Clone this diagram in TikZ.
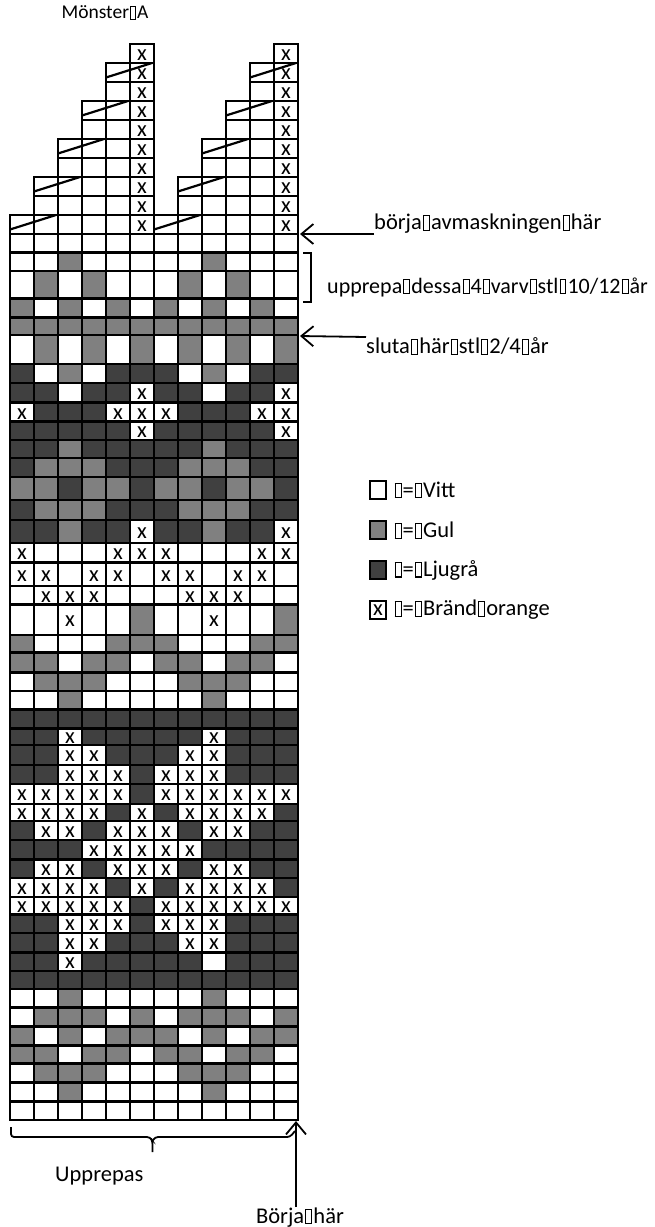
\documentclass[tikz,border=0pt]{standalone}
\usepackage{fontspec}
\setmainfont{Carlito}
\usetikzlibrary{arrows.meta,positioning}

\definecolor{gul}{gray}{0.5}
\definecolor{ljusgra}{gray}{0.25}

% 缺字方框
\newcommand\gl{\kern0.05em\raisebox{-0.02em}{\setlength{\fboxsep}{0pt}\setlength{\fboxrule}{0.045em}\fbox{\rule{0pt}{0.62em}\rule{0.22em}{0pt}}}\kern0.05em}
\newcommand\markw{}
\newcommand\markg{}
\newcommand\markd{}
\newcommand\markx{x}

\tikzset{
  ruta/.style={draw=black, line width=2.5pt},
  cw/.style={fill=white},
  cg/.style={fill=gul},
  cd/.style={fill=ljusgra},
  cx/.style={fill=white},
  txt/.style={font=\fontsize{22.5}{27}\selectfont, inner sep=0pt},
  pil/.style={line width=1.8pt, -{Straight Barb[length=12pt,width=20pt]}},
  legruta/.style={draw, line width=2.5pt, minimum width=16pt, minimum height=18pt, inner sep=0pt},
}

\begin{document}
\begin{tikzpicture}[x=1pt,y=-1pt]
\useasboundingbox (0,0) rectangle (654,1227);

% 定义点变量
\coordinate (avmA) at (300,234);
\coordinate (slutaA) at (300,336);
\coordinate (brA) at (303,253);
\coordinate (brB) at (303,302);
\coordinate (startR) at (296,1121);

% 帽子部分
\foreach \k/\L in {1/6,2/5,3/5,4/4,5/4,6/3,7/3,8/2,9/2,10/1}{
  \pgfmathsetmacro\ya{44+19*(\k-1)}
  \pgfmathsetmacro\yb{\ya+19}
  \foreach \b in {0,6}{
    \pgfmathtruncatemacro\first{\L+\b}
    \pgfmathtruncatemacro\last{6+\b}
    \foreach \j in {\first,...,\last}{
      \pgfmathsetmacro\xa{10+24*(\j-1)}
      \draw[ruta, fill=white] (\xa,\ya) rectangle ++(24,19);
    }
    \pgfmathsetmacro\xl{10+24*(\last-1)}
    \node[txt] (h\k-\b) at (\xl+12,\ya+11) {x};
    \ifodd\k\else
      \pgfmathsetmacro\xd{10+24*(\first-1)}
      \draw[line width=2.2pt] (\xd,\yb-4.5) -- (\xd+46,\ya);
    \fi
  }
}

% 花样格子
\foreach \ya/\yb/\rad [count=\r] in {
  234/252.3/{w,w,w,w,w,w,w,w,w,w,w,w},
  252.3/271/{w,w,g,w,w,w,w,w,g,w,w,w},
  271/298.3/{w,g,w,g,w,w,w,g,w,g,w,w},
  298.3/317.3/{g,w,g,w,g,w,g,w,g,w,g,w},
  317.3/335/{g,g,g,g,g,g,g,g,g,g,g,g},
  335/364/{w,g,w,g,w,g,w,g,w,g,w,g},
  364/383/{d,w,g,w,d,d,d,w,g,w,d,d},
  383/402.7/{d,d,w,d,d,x,d,d,w,d,d,x},
  402.7/421.7/{x,d,d,d,x,x,x,d,d,d,x,x},
  421.7/440/{d,d,d,d,d,x,d,d,d,d,d,x},
  440/458/{d,d,g,d,d,d,d,d,g,d,d,d},
  458/477/{d,g,g,g,d,d,d,g,g,g,d,d},
  477/500/{g,g,d,g,g,d,g,g,d,g,g,d},
  500/520/{d,g,g,g,d,d,d,g,g,g,d,d},
  520/543/{d,d,g,d,d,x,d,d,g,d,d,x},
  543/562.7/{x,w,w,w,x,x,x,w,w,w,x,x},
  562.7/586/{x,x,w,x,x,w,x,x,w,x,x,w},
  586/604.3/{w,x,x,x,w,w,w,x,x,x,w,w},
  604.3/635/{w,w,x,w,w,g,w,w,x,w,w,g},
  635/652.7/{g,w,w,w,g,g,g,w,w,w,g,g},
  652.7/672.7/{g,g,w,g,g,w,g,g,w,g,g,w},
  672.7/691/{w,g,g,g,w,w,w,g,g,g,w,w},
  691/709.3/{w,w,g,w,w,w,w,w,g,w,w,w},
  709.3/728.3/{d,d,d,d,d,d,d,d,d,d,d,d},
  728.3/745/{d,d,x,d,d,d,d,d,x,d,d,d},
  745/765/{d,d,x,x,d,d,d,x,x,d,d,d},
  765/784/{d,d,x,x,x,d,x,x,x,d,d,d},
  784/804/{x,x,x,x,x,d,x,x,x,x,x,x},
  804/821/{x,x,x,x,d,x,d,x,x,x,x,d},
  821/840/{d,x,x,d,x,x,x,d,x,x,d,d},
  840/859.3/{d,d,d,x,x,x,x,x,d,d,d,d},
  859.3/878/{d,x,x,d,x,x,x,d,x,x,d,d},
  878/897/{x,x,x,x,d,x,d,x,x,x,x,d},
  897/914.3/{x,x,x,x,x,d,x,x,x,x,x,x},
  914.3/933/{d,d,x,x,x,d,x,x,x,d,d,d},
  933/952.7/{d,d,x,x,d,d,d,x,x,d,d,d},
  952.7/971/{d,d,x,d,d,d,d,d,w,d,d,d},
  971/989/{d,d,d,d,d,d,d,d,d,d,d,d},
  989/1007.7/{w,w,g,w,w,w,w,w,g,w,w,w},
  1007.7/1026.7/{w,g,g,g,w,g,w,g,g,g,w,g},
  1026.7/1045.3/{g,w,g,w,g,g,g,w,g,w,g,g},
  1045.3/1063.3/{g,g,w,g,g,w,g,g,w,g,g,w},
  1063.3/1082.7/{w,g,g,g,w,w,w,g,g,g,w,w},
  1082.7/1101.7/{w,w,g,w,w,w,w,w,g,w,w,w},
  1101.7/1120/{w,w,w,w,w,w,w,w,w,w,w,w}}{
  \foreach \c [count=\i] in \rad {
    \pgfmathsetmacro\xa{10+24*(\i-1)}
    \draw[ruta, c\c] (\xa,\ya) rectangle (\xa+24,\yb);
    \node[txt] (m\r-\i) at (\xa+12,{(\ya+\yb)/2+1.5}) {\csname mark\c\endcsname};
  }
}

% 右边的说明
\node[txt, anchor=south west] (avm) at (374,234) {börja\gl avmaskningen\gl här};
\draw[pil] (avm.south west) -- (avmA);
\draw[line width=1.6pt] (brA) -- ++(8,0) |- (brB);
\node[txt, anchor=west, font=\fontsize{22}{26}\selectfont] (upp) at (327,287) {upprepa\gl dessa\gl 4\gl varv\gl stl\gl 10/12\gl år};
\node[txt, anchor=north west] (sluta) at (366,337) {sluta\gl här\gl stl\gl 2/4\gl år};
\draw[pil] (sluta.north west) -- (slutaA);

% 图例
\node[legruta, fill=white] (lv) at (378,490) {};
\node[legruta, fill=gul] (lg) at (378,530) {};
\node[legruta, fill=ljusgra] (ld) at (378,570) {};
\node[legruta, fill=white, font=\fontsize{22.5}{27}\selectfont] (lx) at (378,610) {x};
\node[txt, right=6pt of lv] (tv) {\gl=\gl Vitt};
\node[txt, right=6pt of lg] (tg) {\gl=\gl Gul};
\node[txt, right=6pt of ld] (td) {\gl=\gl Ljugrå};
\node[txt, right=6pt of lx] (tx) {\gl=\gl Bränd\gl orange};

% 标题和下边
\node[txt, font=\fontsize{19.5}{24}\selectfont] (monster) at (105,13) {Mönster\gl A};
\draw[line width=1.8pt, rounded corners=3pt] (11,1127) -- (11,1137) -- (150,1137) -- (152.5,1141) -- (152.5,1152);
\draw[line width=1.8pt, rounded corners=3pt] (152.5,1141) -- (155,1137) -- (290,1137) -- (295,1131);
\node[txt, anchor=base west] (upprepas) at (55,1181) {Upprepas};
\node[txt, anchor=base] (borja) at (300,1223) {Börja\gl här};
\draw[pil] (borja.north -| startR) -- (startR);
\end{tikzpicture}
\end{document}
